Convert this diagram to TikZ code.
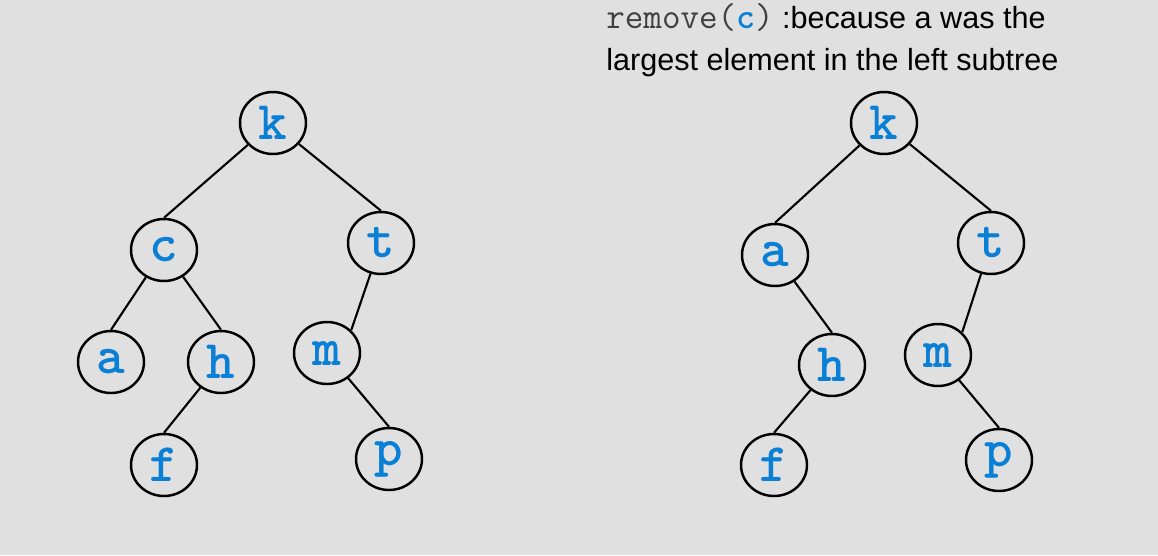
\documentclass[tikz,border=0pt]{standalone}
\usepackage{fontspec}
\setmainfont{Liberation Sans}
\usetikzlibrary{shapes.geometric}
\definecolor{bggray}{HTML}{E0E0E0}
\definecolor{keyblue}{HTML}{0A7FD6}
\definecolor{codegray}{HTML}{404040}

\begin{document}
\begin{tikzpicture}[x=0.02cm, y=-0.02cm,
    key/.style={ellipse, draw, line width=1.4pt, minimum width=1.32cm, minimum height=1.24cm,
        inner sep=0pt, text=keyblue, font=\ttfamily\bfseries\fontsize{31}{31}\selectfont},
    link/.style={line width=1.2pt}]
        \fill[bggray] (0,0) rectangle (1158,555);

        % tree before remove
        \node[key] (k1) at (273,123) {k};
        \node[key] (c1) at (164,250) {c};
        \node[key] (t1) at (381,243) {t};
        \node[key] (a1) at (111,362) {a};
        \node[key] (h1) at (221,362) {h};
        \node[key] (m1) at (327,353) {m};
        \node[key] (f1) at (164,465) {f};
        \node[key] (p1) at (389,459) {p};

        % tree after remove
        \node[key] (k2) at (884,123) {k};
        \node[key] (a2) at (775,255) {a};
        \node[key] (t2) at (991,243) {t};
        \node[key] (h2) at (832,365) {h};
        \node[key] (m2) at (938,355) {m};
        \node[key] (f2) at (774,465) {f};
        \node[key] (p2) at (999,460) {p};

        \node[anchor=base west, inner sep=0pt, font=\fontsize{17.4}{17.4}\selectfont] (line1) at (606,28)
            {{\ttfamily\fontsize{20.5}{20.5}\selectfont\color{codegray}remove(\textcolor{keyblue}{\bfseries c})}\ :because a was the};
        \node[anchor=base west, inner sep=0pt, font=\fontsize{17.4}{17.4}\selectfont] (line2) at (606,70)
            {largest element in the left subtree};

        \path[link]
        (k1) edge (c1.north)
        (k1) edge (t1.north)
        (c1) edge (a1.north)
        (c1) edge (h1.north)
        (h1) edge (f1.north)
        (t1) edge (m1.north east)
        (m1) edge (p1.north)

        (k2) edge (a2.north)
        (k2) edge (t2.north)
        (a2) edge (h2.north)
        (h2) edge (f2.north)
        (t2) edge (m2.north east)
        (m2) edge (p2.north);
\end{tikzpicture}
\end{document}
